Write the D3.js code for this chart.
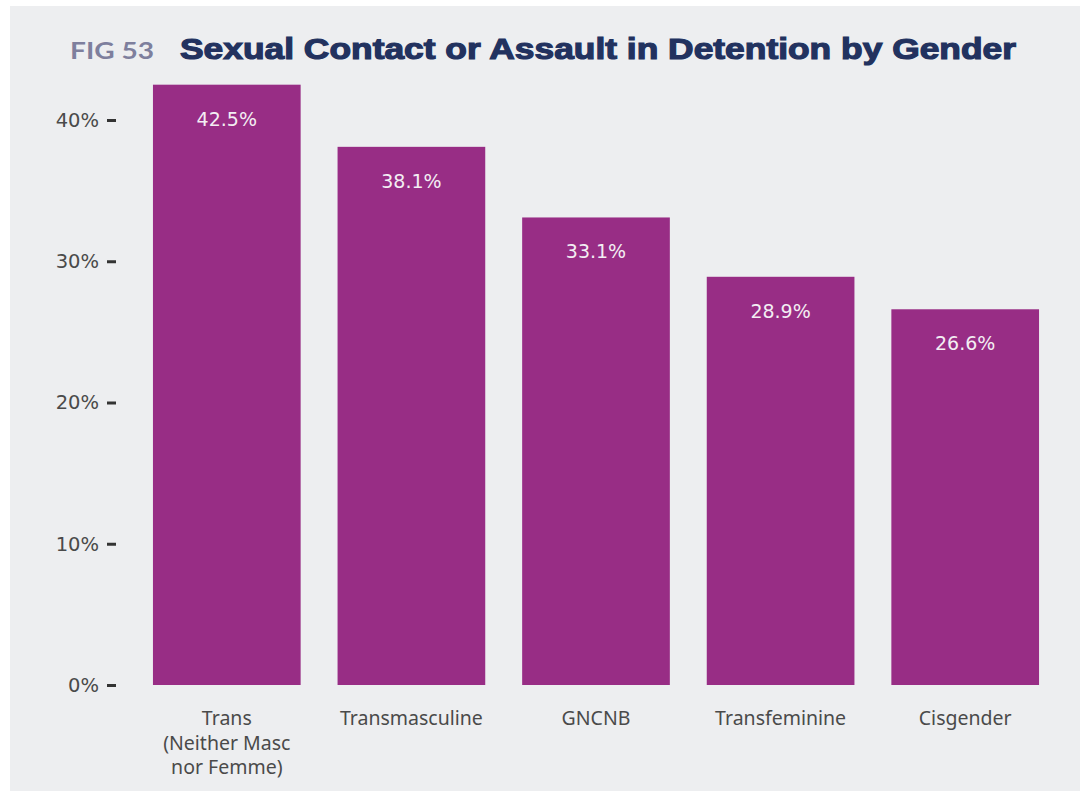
<!DOCTYPE html>
<html lang="en">
<head>
<meta charset="UTF-8">
<title>Sexual Contact or Assault in Detention by Gender</title>
<script src="https://cdnjs.cloudflare.com/ajax/libs/d3/7.8.5/d3.min.js"></script>
<style>
  body { margin: 0; background: #fff; }
  svg { display: block; }
</style>
</head>
<body>
<div id="chart"></div>
<script>
// data
const categories = ["Trans\n(Neither Masc\nnor Femme)", "Transmasculine", "GNCNB", "Transfeminine", "Cisgender"];
const values = [42.5, 38.1, 33.1, 28.9, 26.6];
const yTicks = [0, 10, 20, 30, 40];

const width = 1080, height = 791;

const svg = d3.select("#chart").append("svg")
  .attr("width", width)
  .attr("height", height);

// grey panel
svg.append("rect")
  .attr("x", 10).attr("y", 6)
  .attr("width", width - 10).attr("height", height - 6)
  .attr("fill", "#edeef0");

const x = d3.scaleBand()
  .domain(categories)
  .range([134.5, 1057.5])
  .paddingInner(0.2)
  .paddingOuter(0.1);

const y = d3.scaleLinear()
  .domain([0, 40])
  .range([685, 120]);

// title
const title = svg.append("g");
title.append("text")
  .attr("x", 70).attr("y", 59)
  .attr("font-family", "Lato, 'Open Sans', sans-serif")
  .attr("font-weight", 700)
  .attr("font-size", 22)
  .attr("fill", "#7e7f9d")
  .attr("textLength", 84)
  .attr("lengthAdjust", "spacingAndGlyphs")
  .text("FIG 53");
title.append("text")
  .attr("x", 180).attr("y", 59)
  .attr("font-family", "'Liberation Sans', Arial, sans-serif")
  .attr("font-weight", 700)
  .attr("font-size", 30)
  .attr("fill", "#22325f")
  .attr("stroke", "#22325f")
  .attr("stroke-width", 1.2)
  .attr("textLength", 836)
  .attr("lengthAdjust", "spacingAndGlyphs")
  .text("Sexual Contact or Assault in Detention by Gender");

// y axis
const yAxis = svg.append("g")
  .attr("transform", "translate(116,0)")
  .call(d3.axisLeft(y).tickValues(yTicks).tickFormat(d => d + "%").tickSize(9).tickPadding(8));
yAxis.select(".domain").remove();
yAxis.selectAll(".tick line").attr("stroke", "#333").attr("stroke-width", 3);
yAxis.selectAll(".tick text")
  .attr("font-family", "'DejaVu Sans', sans-serif")
  .attr("font-size", 19.5)
  .attr("fill", "#4a4a4a");

// bars
svg.append("g").selectAll("rect")
  .data(categories)
  .join("rect")
  .attr("x", d => x(d))
  .attr("y", (d, i) => y(values[i]))
  .attr("width", x.bandwidth())
  .attr("height", (d, i) => y(0) - y(values[i]))
  .attr("fill", "#982d85");

// value labels
svg.append("g").selectAll("text")
  .data(categories)
  .join("text")
  .attr("x", d => x(d) + x.bandwidth() / 2)
  .attr("y", (d, i) => y(values[i]) + 41)
  .attr("text-anchor", "middle")
  .attr("font-family", "'DejaVu Sans', sans-serif")
  .attr("font-size", 19)
  .attr("fill", "#f3eef3")
  .text((d, i) => values[i].toFixed(1) + "%");

// category labels
const xl = svg.append("g").selectAll("text")
  .data(categories)
  .join("text")
  .attr("x", d => x(d) + x.bandwidth() / 2)
  .attr("y", 725)
  .attr("text-anchor", "middle")
  .attr("font-family", "'Noto Sans', 'Open Sans', sans-serif")
  .attr("font-size", 19.5)
  .attr("fill", "#4a4a4a");
xl.each(function(d) {
  const t = d3.select(this);
  d.split("\n").forEach((line, i) => {
    t.append("tspan")
      .attr("x", x(d) + x.bandwidth() / 2)
      .attr("dy", i === 0 ? 0 : 24.5)
      .text(line);
  });
});
</script>
</body>
</html>
